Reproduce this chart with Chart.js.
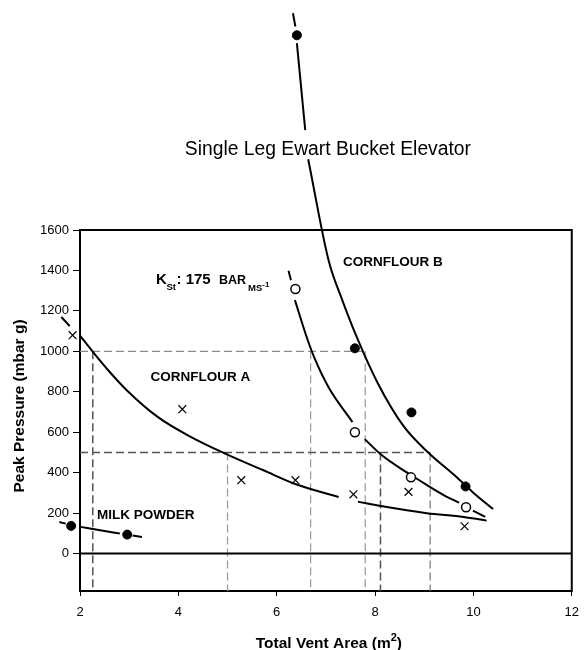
<!DOCTYPE html>
<html>
<head>
<meta charset="utf-8">
<script src="https://cdn.jsdelivr.net/npm/chart.js@4.4.0/dist/chart.umd.min.js"></script>
<style>
  body { margin: 0; background: #fff; }
  canvas { display: block; }
</style>
</head>
<body>
<canvas id="grafico" width="588" height="650"></canvas>
<script>
// Valores (área de venteo vs presión pico)

const ticksX = [2, 4, 6, 8, 10, 12];
const ticksY = [0, 200, 400, 600, 800, 1000, 1200, 1400, 1600];

// Puntos medidos
const lecheX = [1.82, 2.96];
const lecheY = [137, 94];
const maicenaAX = [1.85, 4.08, 5.28, 6.38, 7.56, 8.68, 9.82];
const maicenaAY = [1080, 714, 363, 363, 293, 305, 135];
const kst175X = [6.38, 7.59, 8.73, 9.85];
const kst175Y = [1308, 600, 377, 229];
const maicenaBX = [6.41, 7.59, 8.74, 9.84];
const maicenaBY = [2563, 1015, 698, 332];

// Curvas dibujadas a mano en el original (null = hueco en el trazo)
const curvaLecheX = [1.58, 1.71, 1.82, 2.01, 2.41, 2.81, 2.96, 3.07, 3.26];
const curvaLecheY = [156, 148, null, 132, 115, 99, null, 89, 82];
const curvaAX = [1.62, 1.79, 1.85, 2.0, 2.27, 2.6, 2.95, 3.6, 4.27, 4.93, 5.73, 6.39, 7.26, 7.56, 7.65, 8.15, 9.05, 9.8, 10.27];
const curvaAY = [1170, 1125, null, 1078, 995, 899, 808, 672, 575, 497, 412, 343, 280, null, 257, 234, 200, 181, 163];
const curvaKX = [6.24, 6.29, 6.33, 6.37, 6.63, 6.78, 7.06, 7.54, 7.59, 7.79, 8.12, 8.62, 8.85, 9.45, 9.71, 9.85, 9.99, 10.24];
const curvaKY = [1398, 1352, null, 1253, 1056, 960, 820, 650, null, 566, 490, 405, 370, 282, 252, null, 212, 182];
const curvaBX = [6.33, 6.38, 6.40, 6.41, 6.58, 6.61, 6.64, 7.06, 7.32, 7.62, 8.05, 8.58, 9.08, 9.65, 9.98, 10.40];
const curvaBY = [2672, 2606, null, 2524, 2094, null, 1950, 1445, 1262, 1075, 845, 630, 500, 380, 305, 220];

// Líneas de referencia discontinuas
const refH1000X = [2, 7.8];
const refH500X = [2, 9.12];
const refV1000X = [2.26, 6.69, 7.8];
const refV500X = [5.0, 8.11, 9.12];
const ejeYMin = -185;

const FUENTE = "Arial, 'Liberation Sans', Helvetica, sans-serif";

function puntos(xs, ys) {
	return xs.map((x, i) => ({ x: x, y: ys[i] }));
}

function curva(xs, ys) {
	return {
		data: puntos(xs, ys), showLine: true, pointRadius: 0, borderColor: '#000',
		borderWidth: 2, cubicInterpolationMode: 'monotone', spanGaps: false, clip: false, order: 2
	};
}

function referencia(xs, ys, color, ancho) {
	return {
		data: puntos(xs, ys), showLine: true, pointRadius: 0, borderColor: color,
		borderWidth: ancho, borderDash: [8, 4], clip: false, order: 3
	};
}

const datasets = [
	{ data: puntos(maicenaAX, maicenaAY), pointStyle: 'crossRot', pointRadius: 5.5, borderColor: '#000', borderWidth: 1.2, clip: false, order: 1 },
	{ data: puntos(kst175X, kst175Y), pointStyle: 'circle', pointRadius: 4.5, backgroundColor: '#fff', borderColor: '#000', borderWidth: 1.5, clip: false, order: 1 },
	{ data: puntos(maicenaBX, maicenaBY), pointStyle: 'circle', pointRadius: 4.5, backgroundColor: '#000', borderColor: '#000', borderWidth: 1, clip: false, order: 1 },
	{ data: puntos(lecheX, lecheY), pointStyle: 'circle', pointRadius: 4.5, backgroundColor: '#000', borderColor: '#000', borderWidth: 1, clip: false, order: 1 },
	curva(curvaLecheX, curvaLecheY),
	curva(curvaAX, curvaAY),
	curva(curvaKX, curvaKY),
	curva(curvaBX, curvaBY),
	// eje cero
	{ data: puntos([2, 12], [0, 0]), showLine: true, pointRadius: 0, borderColor: '#000', borderWidth: 2, clip: false, order: 2 },
	referencia(refH1000X, [1000, 1000], '#8a8a8a', 1.2),
	referencia(refH500X, [500, 500], '#555', 1.5),
	referencia([refV1000X[0], refV1000X[0]], [1000, ejeYMin], '#555', 1.5),
	referencia([refV1000X[1], refV1000X[1]], [1000, ejeYMin], '#999', 1.2),
	referencia([refV1000X[2], refV1000X[2]], [1000, ejeYMin], '#999', 1.2),
	referencia([refV500X[0], refV500X[0]], [500, ejeYMin], '#999', 1.2),
	referencia([refV500X[1], refV500X[1]], [500, ejeYMin], '#555', 1.5),
	referencia([refV500X[2], refV500X[2]], [500, ejeYMin], '#777', 1.2)
];

// Marco y textos
const textos = {
	id: 'textos',
	beforeDatasetsDraw(chart) {
		const { ctx, chartArea: a } = chart;
		ctx.save();
		ctx.strokeStyle = '#000';
		ctx.lineWidth = 2;
		ctx.strokeRect(a.left, a.top, a.right - a.left, a.bottom - a.top);
		ctx.restore();
	},
	afterDatasetsDraw(chart) {
		// Chart.js no dibuja los marcadores fuera del área: se dibujan aquí sin área
		const a = chart.chartArea;
		chart.data.datasets.forEach((ds, i) => {
			if (ds.showLine) return;
			chart.getDatasetMeta(i).data.forEach(el => {
				const fuera = el.x < a.left || el.x > a.right || el.y < a.top || el.y > a.bottom;
				if (fuera && !el.skip) el.draw(chart.ctx);
			});
		});
	},
	afterDraw(chart) {
		const ctx = chart.ctx;
		const a = chart.chartArea;
		const cx = (a.left + a.right) / 2;
		ctx.save();
		ctx.fillStyle = '#000';
		ctx.textBaseline = 'alphabetic';

		// título
		ctx.font = '19.3px ' + FUENTE;
		ctx.textAlign = 'center';
		ctx.fillText('Single Leg Ewart Bucket Elevator', cx + 2, 154.5);

		// título eje x con superíndice
		ctx.textAlign = 'left';
		ctx.font = 'bold 15.5px ' + FUENTE;
		const t1 = 'Total Vent Area (m';
		const w1 = ctx.measureText(t1).width;
		ctx.font = 'bold 11px ' + FUENTE;
		const w2 = ctx.measureText('2').width;
		ctx.font = 'bold 15.5px ' + FUENTE;
		const w3 = ctx.measureText(')').width;
		let x0 = cx - (w1 + w2 + w3) / 2 + 3;
		ctx.fillText(t1, x0, 648);
		ctx.font = 'bold 11px ' + FUENTE;
		ctx.fillText('2', x0 + w1, 641);
		ctx.font = 'bold 15.5px ' + FUENTE;
		ctx.fillText(')', x0 + w1 + w2, 648);

		// título eje y
		ctx.save();
		ctx.translate(24, 406);
		ctx.rotate(-Math.PI / 2);
		ctx.textAlign = 'center';
		ctx.fillText('Peak Pressure (mbar g)', 0, 0);
		ctx.restore();

		// etiquetas de series
		ctx.textAlign = 'left';
		ctx.textBaseline = 'middle';
		ctx.font = 'bold 13.5px ' + FUENTE;
		ctx.fillText('MILK POWDER', 97, 515);
		ctx.fillText('CORNFLOUR A', 150.5, 377);
		ctx.fillText('CORNFLOUR B', 343, 262.5);

		// K_St: 175 bar m/s
		ctx.textBaseline = 'alphabetic';
		ctx.font = 'bold 15px ' + FUENTE;
		ctx.fillText('K', 156, 284);
		ctx.font = 'bold 9.5px ' + FUENTE;
		ctx.fillText('St', 166.5, 290);
		ctx.font = 'bold 15px ' + FUENTE;
		ctx.fillText(': 175', 176.5, 284);
		ctx.font = 'bold 12.5px ' + FUENTE;
		ctx.fillText('BAR', 219, 284);
		ctx.font = 'bold 9.5px ' + FUENTE;
		ctx.fillText('MS', 248, 291);
		const wMS = ctx.measureText('MS').width;
		ctx.font = 'bold 8px ' + FUENTE;
		ctx.fillText('-1', 248 + wMS, 287);
		ctx.restore();
	}
};

new Chart(document.getElementById('grafico'), {
	type: 'scatter',
	data: { datasets: datasets },
	options: {
		responsive: false,
		animation: false,
		layout: { padding: { top: 230, right: 7, left: 0, bottom: 0 } },
		plugins: { legend: { display: false }, tooltip: { enabled: false } },
		scales: {
			x: {
				type: 'linear', bounds: 'data',
				// límites fijados aquí para que no se recorten los puntos fuera del eje
				afterDataLimits: (s) => { s.min = 2; s.max = 12; },
				afterBuildTicks: (s) => { s.min = 2; s.max = 12; s.ticks = ticksX.map(v => ({ value: v })); },
				afterFit: (s) => { s.height = 59; },
				border: { display: false },
				grid: { drawOnChartArea: false, drawTicks: true, tickLength: 5, tickColor: '#000', tickWidth: 1 },
				ticks: { color: '#000', padding: 9, font: { family: FUENTE, size: 13 }, maxRotation: 0, callback: (v) => String(v) }
			},
			y: {
				type: 'linear', min: ejeYMin, max: 1600,
				afterBuildTicks: (s) => { s.ticks = ticksY.map(v => ({ value: v })); },
				afterFit: (s) => { s.width = 80; },
				border: { display: false },
				grid: { drawOnChartArea: false, drawTicks: true, tickLength: 7, tickColor: '#000', tickWidth: 1 },
				ticks: { color: '#000', padding: 4, font: { family: FUENTE, size: 13 }, callback: (v) => String(v) }
			}
		}
	},
	plugins: [textos]
});
</script>
</body>
</html>
